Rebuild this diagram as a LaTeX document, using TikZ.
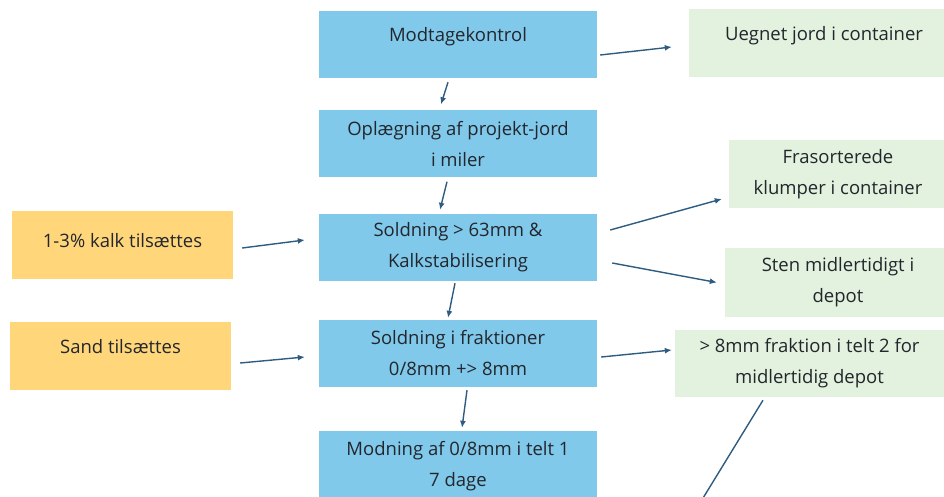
\documentclass[tikz,border=0pt]{standalone}
\usepackage{fontspec}
\setmainfont{Open Sans}
\usepackage{xcolor}
\usepackage{tikz}
\usetikzlibrary{arrows.meta}

\definecolor{stepblue}{RGB}{128,201,234}
\definecolor{addyellow}{RGB}{255,215,122}
\definecolor{outgreen}{RGB}{226,242,222}
\definecolor{arrowblue}{RGB}{46,92,128}
\definecolor{textgray}{RGB}{35,38,45}

\tikzset{
    box/.style={draw=none, align=center, text=textgray, inner sep=0pt,
        font=\fontsize{18.5}{31}\selectfont},
    stepbox/.style={box, fill=stepblue, minimum width=278pt, minimum height=67pt},
    addbox/.style={box, fill=addyellow, minimum width=221pt, minimum height=68pt},
    outbox/.style={box, fill=outgreen, minimum height=68pt},
    lifted/.style={text depth=20pt},
    flow/.style={draw=arrowblue, line width=1.4pt, -{Latex[length=7pt,width=6pt]}}
}

\begin{document}
\begin{tikzpicture}[x=1pt, y=-1pt]
    \useasboundingbox (0,0) rectangle (944,497);
    \clip (0,0) rectangle (944,497);

    \node[stepbox, lifted] (mod) at (458,44.5) {Modtagekontrol};
    \node[stepbox] (opl) at (458,144) {Oplægning af projekt-jord\\i miler};
    \node[stepbox] (sold) at (458,247.5) {Soldning > 63mm \&\\Kalkstabilisering};
    \node[stepbox] (frak) at (458,353.5) {Soldning i fraktioner\\0/8mm +> 8mm};
    \node[stepbox, minimum height=70pt] (modn) at (458,466) {Modning af 0/8mm i telt 1\\7 dage};

    \node[addbox, text depth=8pt] (kalk) at (122.5,244.5) {1-3\% kalk tilsættes};
    \node[addbox, lifted] (sand) at (120.5,356) {Sand tilsættes};

    \node[outbox, lifted, minimum width=270pt] (ueg) at (824,43) {Uegnet jord i container};
    \node[outbox, minimum width=218pt] (fras) at (838,174) {Frasorterede\\klumper i container};
    \node[outbox, minimum width=226pt, minimum height=69pt] (sten) at (838,282.5) {Sten midlertidigt i\\depot};
    \node[outbox, minimum width=269pt, minimum height=67pt] (mm) at (809.5,363.5) {> 8mm fraktion i telt 2 for\\midlertidig depot};
    \coordinate (ned) at (700,503);

    \draw[flow] ([xshift=3pt,yshift=-10.5pt]mod.east) -- ([xshift=-17pt,yshift=-4pt]ueg.west);
    \draw[flow] ([xshift=-10pt,yshift=-4pt]mod.south) -- ([xshift=-17pt,yshift=6pt]opl.north);
    \draw[flow] ([xshift=-11pt,yshift=-4pt]opl.south) -- ([xshift=-18pt,yshift=4pt]sold.north);
    \draw[flow] ([xshift=9pt,yshift=-3.5pt]kalk.east) -- ([xshift=-14pt,yshift=7.5pt]sold.west);
    \draw[flow] ([xshift=13pt,yshift=17.5pt]sold.east) -- ([xshift=-7pt,yshift=-25pt]fras.west);
    \draw[flow] ([xshift=15pt,yshift=-15.5pt]sold.east) -- ([xshift=-8pt]sten.west);
    \draw[flow] ([xshift=-3pt,yshift=-2pt]sold.south) -- ([xshift=-10pt,yshift=2pt]frak.north);
    \draw[flow] ([xshift=9pt,yshift=-7pt]sand.east) -- ([xshift=-14pt,yshift=-3.5pt]frak.west);
    \draw[flow] ([xshift=4pt,yshift=-3.5pt]frak.east) -- ([xshift=-3pt,yshift=13.5pt]mm.west);
    \draw[flow] ([xshift=9pt,yshift=-3pt]frak.south) -- ([xshift=4pt,yshift=3pt]modn.north);
    \draw[draw=arrowblue, line width=1.4pt] ([xshift=-46.5pt,yshift=-3pt]mm.south) -- (ned);
\end{tikzpicture}
\end{document}
